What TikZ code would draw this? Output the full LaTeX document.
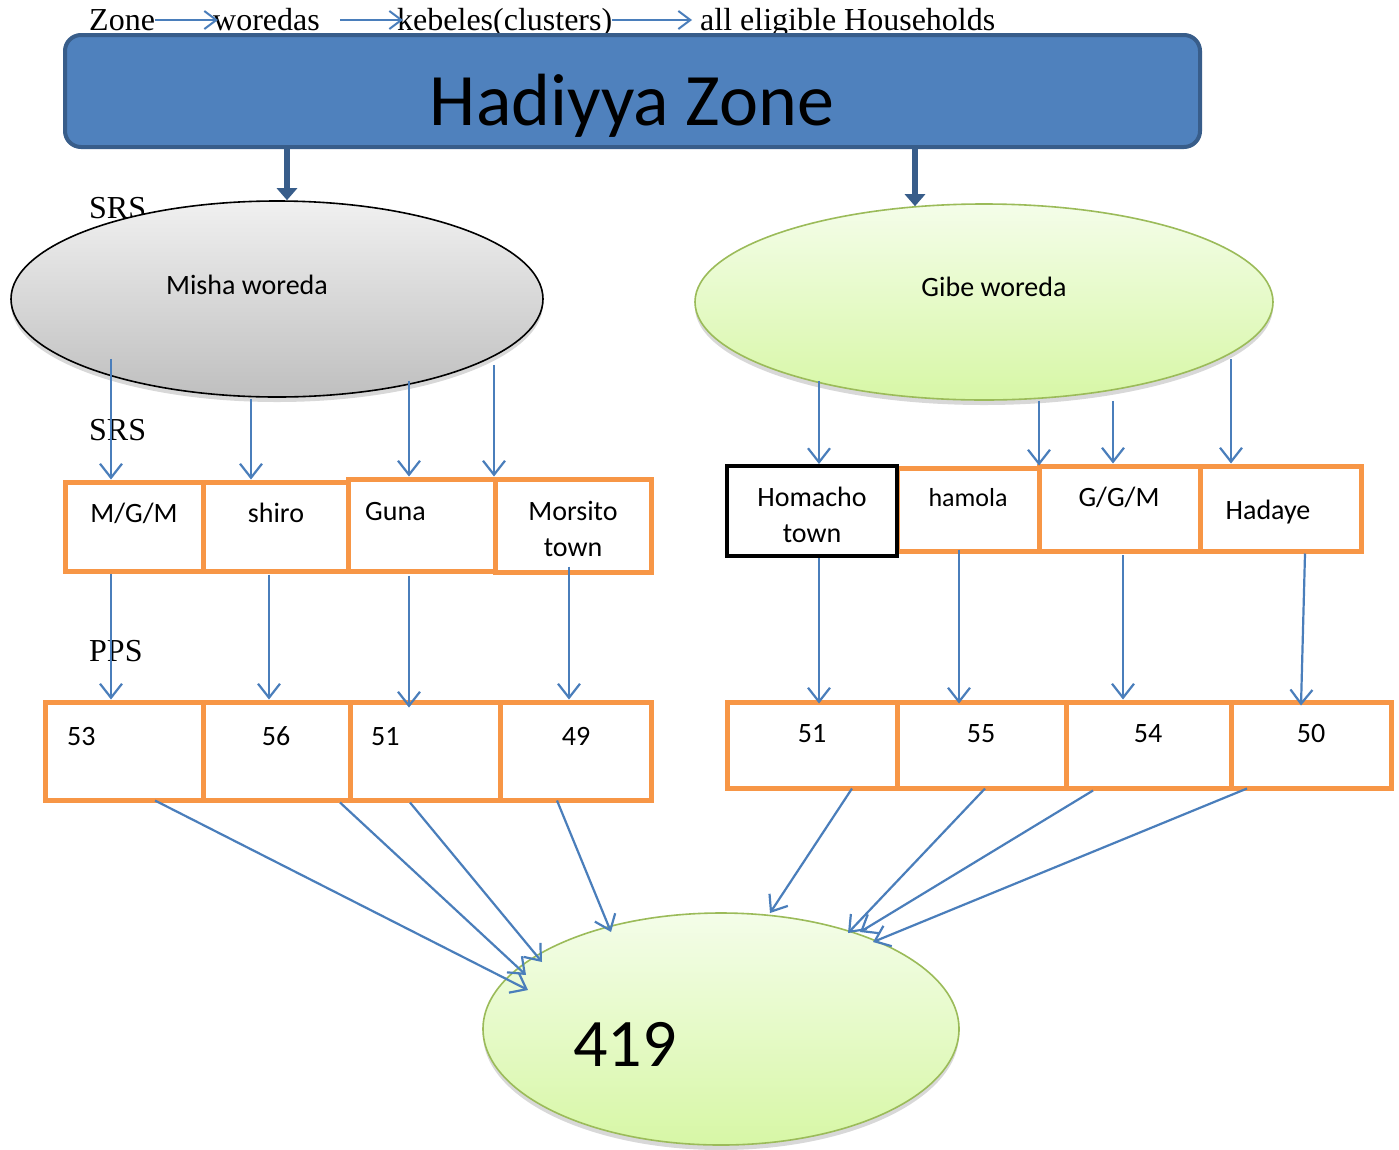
\documentclass[tikz,border=0pt]{standalone}
\usepackage{fontspec}
\setmainfont{Liberation Serif}
\newfontfamily\carl{Carlito}
\usetikzlibrary{arrows.meta,shapes.geometric,shadows,calc}
\definecolor{banfill}{HTML}{4F81BD}
\definecolor{banline}{HTML}{385D8A}
\definecolor{arrblue}{HTML}{4A7EBB}
\definecolor{orng}{HTML}{F79646}
\definecolor{grnline}{HTML}{9BBB59}
\definecolor{grntop}{HTML}{F4FDE9}
\definecolor{grnbot}{HTML}{D7F7A6}
\definecolor{graytop}{HTML}{F0F0F0}
\definecolor{graybot}{HTML}{BFBFBF}
\begin{document}
\begin{tikzpicture}[x=1pt,y=-1pt,
  hdr/.style={font=\fontsize{32}{38}\selectfont,inner sep=0pt,anchor=base west},
  lbl/.style={font=\carl\fontsize{28}{34}\selectfont,inner sep=0pt,anchor=base},
  lbll/.style={lbl,anchor=base west},
  obox/.style={draw=orng,line width=5pt,inner sep=0pt},
  blkbox/.style={draw=black,line width=4pt,inner sep=0pt},
  arr/.style={draw=arrblue,line width=2.2pt,-{Straight Barb[length=14pt,width=22pt]}},
  harr/.style={draw=arrblue,line width=2pt,-{Straight Barb[length=12pt,width=18pt]}},
  bigarr/.style={draw=banline,line width=6pt,-{Triangle[length=12pt,width=20pt]}},
  oval/.style={ellipse,inner sep=0pt,line width=1.6pt,drop shadow={shadow xshift=0pt,shadow yshift=-5pt,opacity=0.25,fill=black!60}}]
\useasboundingbox (0,0) rectangle (1399,1149);
\fill[white] (0,0) rectangle (1399,1149);

% header line
\node[hdr] (zone) at (89,30) {Zone};
\node[hdr] (woredas) at (213,30) {woredas};
\node[hdr] (kebeles) at (397,30) {kebeles(clusters)};
\node[hdr] (hh) at (700,30) {all eligible Households};
\draw[harr] ([yshift=10pt]zone.base east) -- ([xshift=5pt,yshift=10pt]woredas.base west);
\draw[harr] ([xshift=20pt,yshift=10pt]woredas.base east) -- ([xshift=6pt,yshift=10pt]kebeles.base west);
\draw[harr] ([yshift=10pt]kebeles.base east) -- ([xshift=-8pt,yshift=10pt]hh.base west);

% banner
\node[draw=banline,line width=4pt,fill=banfill,rounded corners=16pt,minimum width=1135pt,minimum height=112pt,inner sep=0pt] (banner) at (632.5,91) {};
\node[font=\carl\fontsize{74}{80}\selectfont,inner sep=0pt,anchor=base] (title) at (632,125) {Hadiyya Zone};

% method labels
\node[hdr] (srs1) at (89,218) {SRS};
\node[hdr] (srs2) at (89,440) {SRS};
\node[hdr] (pps) at (89,661) {PPS};

% woreda ellipses
\node[oval,draw=black,top color=graytop,bottom color=graybot,minimum width=532pt,minimum height=196pt] (misha) at (277,299) {};
\node[lbl] (mishat) at (247,294) {Misha woreda};
\node[oval,draw=grnline,top color=grntop,bottom color=grnbot,minimum width=578pt,minimum height=196pt] (gibe) at (984,302) {};
\node[lbl] (gibet) at (994,296) {Gibe woreda};

% total ellipse
\node[oval,draw=grnline,top color=grntop,bottom color=grnbot,minimum width=476pt,minimum height=232pt] (total) at (721,1029) {};
\node[font=\carl\fontsize{68}{72}\selectfont,inner sep=0pt,anchor=base] (totalt) at (625,1066) {419};

% thick arrows
\draw[bigarr] ($(banner.south)+(-345.5,0)$) -- ($(misha.north)+(10,0)$);
\draw[bigarr] ($(banner.south)+(282.5,0)$) -- ($(gibe.north)+(-69,3)$);

% left kebele row
\node[obox,minimum width=138pt,minimum height=89pt] (mgm) at (134,526.5) {};
\node[obox,minimum width=145pt,minimum height=89pt] (shiro) at (275.5,526.5) {};
\node[obox,minimum width=147pt,minimum height=92pt] (guna) at (421.5,525) {};
\node[obox,minimum width=156pt,minimum height=93pt] (morsito) at (573,525.5) {};
\node[lbl] (mgmt) at (134,522) {M/G/M};
\node[lbl] (shirot) at (276,522) {shiro};
\node[lbll] (gunat) at (365,520) {Guna};
\node[lbl] (morsitot1) at (573,520) {Morsito};
\node[lbl] (morsitot2) at (573,556) {town};

% right kebele row
\node[obox,minimum width=142pt,minimum height=83pt] (hamola) at (968,509.5) {};
\node[obox,minimum width=161pt,minimum height=85pt] (ggm) at (1119.5,508.5) {};
\node[obox,minimum width=161pt,minimum height=85pt] (hadaye) at (1280.5,508.5) {};
\node[blkbox,minimum width=170pt,minimum height=90pt] (homacho) at (812,511) {};
\node[lbl] (homachot1) at (812,506) {Homacho};
\node[lbl] (homachot2) at (812,542) {town};
\node[lbl,font=\carl\fontsize{26}{32}\selectfont] (hamolat) at (968,506) {hamola};
\node[lbl] (ggmt) at (1119,506) {G/G/M};
\node[lbl] (hadayet) at (1268,519) {Hadaye};

% left number row
\node[obox,minimum width=158pt,minimum height=98pt] (n53) at (124,751) {};
\node[obox,minimum width=147pt,minimum height=98pt] (n56) at (276.5,751) {};
\node[obox,minimum width=150pt,minimum height=98pt] (n51) at (425,751) {};
\node[obox,minimum width=151pt,minimum height=98pt] (n49) at (575.5,751) {};
\node[lbll] (n53t) at (67,745) {53};
\node[lbl] (n56t) at (276,745) {56};
\node[lbll] (n51t) at (371,745) {51};
\node[lbl] (n49t) at (576,745) {49};

% right number row
\node[obox,minimum width=170pt,minimum height=86pt] (r51) at (812,745) {};
\node[obox,minimum width=169pt,minimum height=86pt] (r55) at (981.5,745) {};
\node[obox,minimum width=165pt,minimum height=86pt] (r54) at (1148.5,745) {};
\node[obox,minimum width=160pt,minimum height=86pt] (r50) at (1311,745) {};
\node[lbl] (r51t) at (812,742) {51};
\node[lbl] (r55t) at (981,742) {55};
\node[lbl] (r54t) at (1148,742) {54};
\node[lbl] (r50t) at (1311,742) {50};

% woreda -> kebele arrows
\draw[arr] ($(misha.south)+(-166,-39)$) -- ($(mgm.north)+(-23,0)$);
\draw[arr] ($(misha.south)+(-26,1)$) -- ($(shiro.north)+(-24.5,0)$);
\draw[arr] ($(misha.south)+(132,-17)$) -- ($(guna.north)+(-12.5,0)$);
\draw[arr] ($(misha.south)+(217,-33)$) -- ($(morsito.north)+(-79,0)$);
\draw[arr] ($(gibe.south)+(-165,-20)$) -- ($(homacho.north)+(7,0)$);
\draw[arr] ($(gibe.south)+(55,0)$) -- ($(hamola.north)+(71,0)$);
\draw[arr] ($(gibe.south)+(129,0)$) -- ($(ggm.north)+(-6.5,0)$);
\draw[arr] ($(gibe.south)+(247,-42)$) -- ($(hadaye.north)+(-49.5,0)$);

% kebele -> number arrows
\draw[arr] ($(mgm.south)+(-23,0)$) -- ($(n53.north)+(-13,0)$);
\draw[arr] ($(shiro.south)+(-6.5,1)$) -- ($(n56.north)+(-7.5,0)$);
\draw[arr] ($(guna.south)+(-12.5,2)$) -- ($(n51.north)+(-16,8)$);
\draw[arr] ($(morsito.south)+(-4,-8)$) -- ($(n49.north)+(-6.5,0)$);
\draw[arr] ($(homacho.south)+(7,0)$) -- ($(r51.north)+(7,4)$);
\draw[arr] ($(hamola.south)+(-9,-4)$) -- ($(r55.north)+(-22.5,4)$);
\draw[arr] ($(ggm.south)+(3.5,1.5)$) -- ($(r54.north)+(-25.5,0)$);
\draw[arr] ($(hadaye.south)+(24.5,0)$) -- ($(r50.north)+(-10,6)$);

% number -> total arrows
\draw[arr] ($(n53.south)+(31,-2)$) -- ($(total)+(-193,-39)$);
\draw[arr] ($(n56.south)+(63.5,0)$) -- ($(total)+(-195,-54)$);
\draw[arr] ($(n51.south)+(-15,0)$) -- ($(total)+(-179,-67)$);
\draw[arr] ($(n49.south)+(-18.5,-2)$) -- ($(total)+(-110,-97)$);
\draw[arr] ($(r51.south)+(40,-2)$) -- ($(total)+(49,-116)$);
\draw[arr] ($(r55.south)+(3.5,-2)$) -- ($(total)+(127,-96)$);
\draw[arr] ($(r54.south)+(-55.5,0)$) -- ($(total)+(139,-97)$);
\draw[arr] ($(r50.south)+(-64,-2)$) -- ($(total)+(152,-87)$);
\end{tikzpicture}
\end{document}
